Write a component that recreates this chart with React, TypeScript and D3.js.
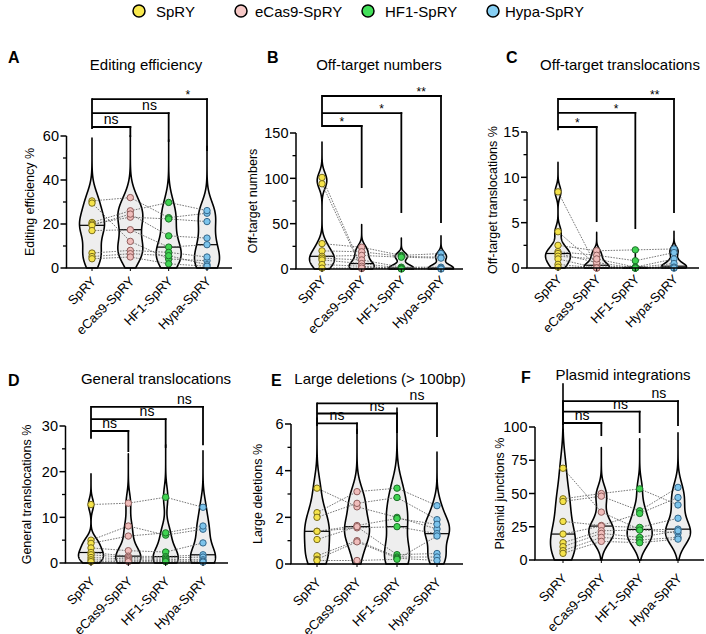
import React from 'react';
import * as d3 from 'd3';

const groups = ['SpRY', 'eCas9-SpRY', 'HF1-SpRY', 'Hypa-SpRY'];
const legendLabels = ['SpRY', 'eCas9-SpRY', 'HF1-SpRY', 'Hypa-SpRY'];
const legendFill = ['#f8e84e', '#f6c8c6', '#43e05a', '#86cff4'];
const pointFill = ['#f5e34a', '#f0bdbb', '#3fd351', '#7cc4ec'];
const pointStroke = ['#7a6d1c', '#8f5e5c', '#1d7029', '#35678a'];

// A — Editing efficiency (paired samples, same index = same sample)
const editSpRY = [30.5, 29.5, 20.7, 20.0, 19.4, 17.0, 6.8, 5.2, 4.2];
const editECas9 = [32.0, 12.1, 26.0, 23.1, 24.5, 17.4, 8.0, 6.5, 5.0];
const editHF1 = [22.9, 4.1, 29.8, 22.3, 14.6, 9.5, 7.1, 5.6, 1.9];
const editHypa = [24.9, 3.3, 26.1, 21.1, 13.6, 10.6, 5.0, 1.5, 0.8];
// B — Off-target numbers
const offNumSpRY = [101, 94, 28, 20, 14, 12, 10, 5, 1];
const offNumECas9 = [2, 0.5, 24, 19, 15, 10, 6, 3, 1];
const offNumHF1 = [1, 0.5, 15, 14, 13, 2, 1, 0.5, 0];
const offNumHypa = [1, 0.5, 17, 13, 12, 2, 1, 0.5, 0];
// C — Off-target translocations %
const offTlSpRY = [8.4, 4.0, 2.5, 1.8, 1.6, 1.3, 1.0, 0.4, 0.1];
const offTlECas9 = [0.1, 0.3, 1.9, 1.4, 0.6, 1.0, 0.0, 0.0, 0.0];
const offTlHF1 = [0.0, 0.0, 2.0, 0.8, 0.0, 0.1, 0.05, 0.0, 0.0];
const offTlHypa = [0.1, 0.0, 2.1, 1.7, 0.2, 1.0, 0.5, 0.1, 0.0];
// D — General translocations %
const genTlSpRY = [12.8, 5.0, 4.3, 3.3, 2.3, 1.8, 1.2, 0.7, 0.3];
const genTlECas9 = [13.1, 8.1, 5.9, 2.7, 1.5, 1.2, 0.9, 0.6, 0.3];
const genTlHF1 = [14.4, 6.1, 6.6, 2.4, 1.4, 1.1, 0.8, 0.5, 0.3];
const genTlHypa = [12.2, 7.4, 8.1, 4.4, 1.8, 1.3, 0.7, 0.4, 0.2];
// E — Large deletions %
const delSpRY = [3.25, 2.2, 2.0, 1.4, 1.4, 1.05, 0.35, 0.2, 0.15];
const delECas9 = [2.45, 3.1, 2.6, 1.55, 1.65, 1.6, 1.0, 0.95, 0.15];
const delHF1 = [2.0, 3.25, 2.85, 1.6, 1.95, 0.4, 0.3, 0.25, 0.2];
const delHypa = [1.5, 2.5, 1.9, 1.3, 1.7, 0.45, 0.3, 0.15, 1.2];
// F — Plasmid junctions %
const plasSpRY = [69, 46, 44, 29, 19.5, 13, 10, 7, 5];
const plasECas9 = [36, 50, 48, 26, 25.5, 22, 20, 17, 14];
const plasHF1 = [23, 53.5, 37, 35, 24.5, 22.5, 17, 15, 13];
const plasHypa = [20.2, 41.4, 54.6, 47, 31.4, 23.2, 22, 17, 15.7];

// ticks
const ticksA = [0, 20, 40, 60];
const minorA = [10, 30, 50];
const ticksB = [0, 50, 100, 150];
const minorB = [25, 75, 125];
const ticksC = [0, 5, 10, 15];
const minorC = [2.5, 7.5, 12.5];
const ticksD = [0, 10, 20, 30];
const minorD = [5, 15, 25];
const ticksE = [0, 2, 4, 6];
const minorE = [1, 3, 5];
const ticksF = [0, 25, 50, 75, 100];
const minorF: number[] = [];

// significance brackets: levels for (Hypa, HF1, eCas9) comparisons, drop ends per group (data units)
const levelsA = [76.8, 70.4, 64.1];
const dropsA = [63.2, 59.5, 57.3, 53.2];
const sigA = ['*', 'ns', 'ns'];
const levelsB = [190.8, 172, 157.7];
const dropsB = [156.6, 89.3, 61.8, 50.7];
const sigB = ['**', '*', '*'];
const levelsC = [18.64, 17.1, 15.55];
const dropsC = [15.2, 5.07, 4.3, 6.07];
const sigC = ['**', '*', '*'];
const levelsD = [34.2, 31.5, 28.9];
const dropsD = [27.2, 24.3, 25.2, 25.8];
const sigD = ['ns', 'ns', 'ns'];
const levelsE = [6.88, 6.45, 6.03];
const dropsE = [5.91, 5.57, 5.61, 5.44];
const sigE = ['ns', 'ns', 'ns'];
const levelsF = [119.5, 111.5, 103];
const dropsF = [101.5, 93.2, 95.5, 100.7];
const sigF = ['ns', 'ns', 'ns'];

const panels = [
  { letter: 'A', title: 'Editing efficiency', ylabel: 'Editing efficiency %', values: [editSpRY, editECas9, editHF1, editHypa], major: ticksA, minor: minorA, levels: levelsA, drops: dropsA, sig: sigA },
  { letter: 'B', title: 'Off-target numbers', ylabel: 'Off-target numbers', values: [offNumSpRY, offNumECas9, offNumHF1, offNumHypa], major: ticksB, minor: minorB, levels: levelsB, drops: dropsB, sig: sigB },
  { letter: 'C', title: 'Off-target translocations', ylabel: 'Off-target translocations %', values: [offTlSpRY, offTlECas9, offTlHF1, offTlHypa], major: ticksC, minor: minorC, levels: levelsC, drops: dropsC, sig: sigC },
  { letter: 'D', title: 'General translocations', ylabel: 'General translocations %', values: [genTlSpRY, genTlECas9, genTlHF1, genTlHypa], major: ticksD, minor: minorD, levels: levelsD, drops: dropsD, sig: sigD },
  { letter: 'E', title: 'Large deletions (> 100bp)', ylabel: 'Large deletions %', values: [delSpRY, delECas9, delHF1, delHypa], major: ticksE, minor: minorE, levels: levelsE, drops: dropsE, sig: sigE },
  { letter: 'F', title: 'Plasmid integrations', ylabel: 'Plasmid junctions %', values: [plasSpRY, plasECas9, plasHF1, plasHypa], major: ticksF, minor: minorF, levels: levelsF, drops: dropsF, sig: sigF },
];

// layout frames (pixels)
const frames = [
  { axisX: 66.5, x0: 92, x1: 207, xEnd: 232, yTop: 136, yBottom: 268, letterX: 8, letterY: 63, titleX: 146, titleY: 70, ylabelX: 29, catDy: 14 },
  { axisX: 296, x0: 322, x1: 441, xEnd: 463, yTop: 133, yBottom: 269, letterX: 267, letterY: 63, titleX: 379, titleY: 70, ylabelX: 252, catDy: 12 },
  { axisX: 527, x0: 558, x1: 674, xEnd: 699, yTop: 132, yBottom: 268, letterX: 506, letterY: 63, titleX: 620, titleY: 70, ylabelX: 492, catDy: 12 },
  { axisX: 65.5, x0: 91, x1: 203, xEnd: 228, yTop: 426, yBottom: 563, letterX: 8, letterY: 386, titleX: 156, titleY: 384, ylabelX: 26, catDy: 19 },
  { axisX: 291, x0: 317, x1: 437, xEnd: 463, yTop: 424, yBottom: 564, letterX: 271, letterY: 386, titleX: 380, titleY: 384, ylabelX: 257, catDy: 19 },
  { axisX: 535, x0: 563, x1: 678, xEnd: 704, yTop: 427, yBottom: 560, letterX: 521, letterY: 383, titleX: 623, titleY: 380, ylabelX: 499, catDy: 19 },
];

const legendX = [139, 241, 368, 493];
const legendTextX = [156, 255, 385, 505];

const FONT = '"Liberation Sans", Arial, Helvetica, sans-serif';

function violin(values: number[]) {
  const n = values.length;
  const s = [...values].sort(d3.ascending);
  const sd = d3.deviation(s) || 1;
  const iqr = (d3.quantile(s, 0.75) as number) - (d3.quantile(s, 0.25) as number);
  let spread = Math.min(sd, iqr / 1.34);
  if (!(spread > 0)) spread = sd;
  const h = 0.9 * spread * Math.pow(n, -0.2);
  const lo = Math.max(0, s[0] - 5 * h);
  const hi = s[n - 1] + 5 * h;
  const dens = (v: number) => d3.sum(s, (x) => Math.exp(-0.5 * ((v - x) / h) ** 2));
  const N = 300;
  const pts = d3.range(N + 1).map((i) => {
    const v = lo + ((hi - lo) * i) / N;
    return { v, d: dens(v) };
  });
  const maxD = d3.max(pts, (p) => p.d) as number;
  const med = d3.median(s) as number;
  return { pts: pts.map((p) => ({ v: p.v, w: p.d / maxD })), med, medW: dens(med) / maxD };
}

function Panel({ p, f }: { p: any; f: any }) {
  const yMax = p.major[p.major.length - 1];
  const y = d3.scaleLinear().domain([0, yMax]).range([f.yBottom, f.yTop]);
  const x = d3.scalePoint<string>().domain(groups).range([f.x0, f.x1]);
  const W = 12.5;
  const vios = p.values.map((vals: number[]) => violin(vals));
  const nS = p.values[0].length;
  const ymid = (f.yTop + f.yBottom) / 2;

  return (
    <g>
      {/* violins */}
      {vios.map((vi: any, gi: number) => {
        const cx = x(groups[gi]) as number;
        const area = d3
          .area<{ v: number; w: number }>()
          .y((d) => y(d.v))
          .x0((d) => cx - d.w * W)
          .x1((d) => cx + d.w * W);
        return (
          <g key={'v' + gi}>
            <path d={area(vi.pts) as string} fill="#eeeeee" stroke="#000" strokeWidth={1.6} strokeLinejoin="round" />
            <line x1={cx - vi.medW * W} x2={cx + vi.medW * W} y1={y(vi.med)} y2={y(vi.med)} stroke="#000" strokeWidth={1.2} />
          </g>
        );
      })}
      {/* paired lines */}
      {d3.range(nS).map((si) =>
        [0, 1, 2].map((gi) => (
          <line
            key={'l' + si + '-' + gi}
            x1={x(groups[gi]) as number}
            x2={x(groups[gi + 1]) as number}
            y1={y(p.values[gi][si])}
            y2={y(p.values[gi + 1][si])}
            stroke="#555"
            strokeWidth={0.8}
            strokeDasharray="1.6,1.2"
          />
        ))
      )}
      {/* points */}
      {p.values.map((vals: number[], gi: number) =>
        vals.map((v, si) => (
          <circle key={'c' + gi + '-' + si} cx={x(groups[gi]) as number} cy={y(v)} r={3.2} fill={pointFill[gi]} stroke={pointStroke[gi]} strokeWidth={1} />
        ))
      )}
      {/* y axis */}
      <line x1={f.axisX} x2={f.axisX} y1={y(yMax)} y2={f.yBottom} stroke="#000" strokeWidth={1.5} />
      {p.major.map((t: number) => (
        <g key={'t' + t}>
          <line x1={f.axisX - 6} x2={f.axisX} y1={y(t)} y2={y(t)} stroke="#000" strokeWidth={1.5} />
          <text x={f.axisX - 7.5} y={y(t)} dy="0.36em" textAnchor="end" fontSize={14.5} fontFamily={FONT}>
            {t}
          </text>
        </g>
      ))}
      {p.minor.map((t: number) => (
        <line key={'m' + t} x1={f.axisX - 3.5} x2={f.axisX} y1={y(t)} y2={y(t)} stroke="#000" strokeWidth={1.3} />
      ))}
      {/* x axis */}
      <line x1={f.axisX - 0.75} x2={f.xEnd} y1={f.yBottom} y2={f.yBottom} stroke="#000" strokeWidth={1.5} />
      {groups.map((g) => (
        <g key={'x' + g}>
          <line x1={x(g) as number} x2={x(g) as number} y1={f.yBottom} y2={f.yBottom + 3} stroke="#000" strokeWidth={1} />
          <text
            transform={`translate(${(x(g) as number) + 5},${f.yBottom + f.catDy}) rotate(-45)`}
            textAnchor="end"
            fontSize={13}
            fontFamily={FONT}
          >
            {g}
          </text>
        </g>
      ))}
      {/* y label */}
      <text transform={`translate(${f.ylabelX},${ymid}) rotate(-90)`} dy="0.36em" textAnchor="middle" fontSize={12.5} fontFamily={FONT}>
        {p.ylabel}
      </text>
      {/* brackets */}
      <line x1={f.x0} x2={f.x0} y1={y(p.levels[0]) - 0.9} y2={y(p.drops[0])} stroke="#000" strokeWidth={1.8} />
      {p.levels.map((lv: number, i: number) => {
        const ti = 3 - i;
        const xt = x(groups[ti]) as number;
        const xs = x(groups[0]) as number;
        const lx = ((x(groups[ti - 1]) as number) + xt) / 2;
        const star = p.sig[i] !== 'ns';
        return (
          <g key={'b' + i}>
            <line x1={xs} x2={xt + 0.9} y1={y(lv)} y2={y(lv)} stroke="#000" strokeWidth={1.8} />
            <line x1={xt} x2={xt} y1={y(lv) - 0.9} y2={y(p.drops[ti])} stroke="#000" strokeWidth={1.8} />
            <text x={lx} y={y(lv) - (star ? 0 : 3)} textAnchor="middle" fontSize={star ? 12 : 14} fontFamily={FONT}>
              {p.sig[i]}
            </text>
          </g>
        );
      })}
      {/* title & letter */}
      <text x={f.titleX} y={f.titleY} textAnchor="middle" fontSize={15} fontFamily={FONT}>
        {p.title}
      </text>
      <text x={f.letterX} y={f.letterY} fontSize={16} fontWeight="bold" fontFamily={FONT}>
        {p.letter}
      </text>
    </g>
  );
}

export default function App() {
  return (
    <div style={{ position: 'absolute', left: 0, top: 0 }}>
      <svg width={706} height={634} style={{ display: 'block', background: '#fff' }}>
        <rect width={706} height={634} fill="#fff" />
        {legendLabels.map((l, i) => (
          <g key={l}>
            <circle cx={legendX[i]} cy={11} r={6} fill={legendFill[i]} stroke="#000" strokeWidth={1.5} />
            <text x={legendTextX[i]} y={16.5} fontSize={15} fontFamily={FONT}>
              {l}
            </text>
          </g>
        ))}
        {panels.map((p, i) => (
          <Panel key={p.letter} p={p} f={frames[i]} />
        ))}
      </svg>
    </div>
  );
}
